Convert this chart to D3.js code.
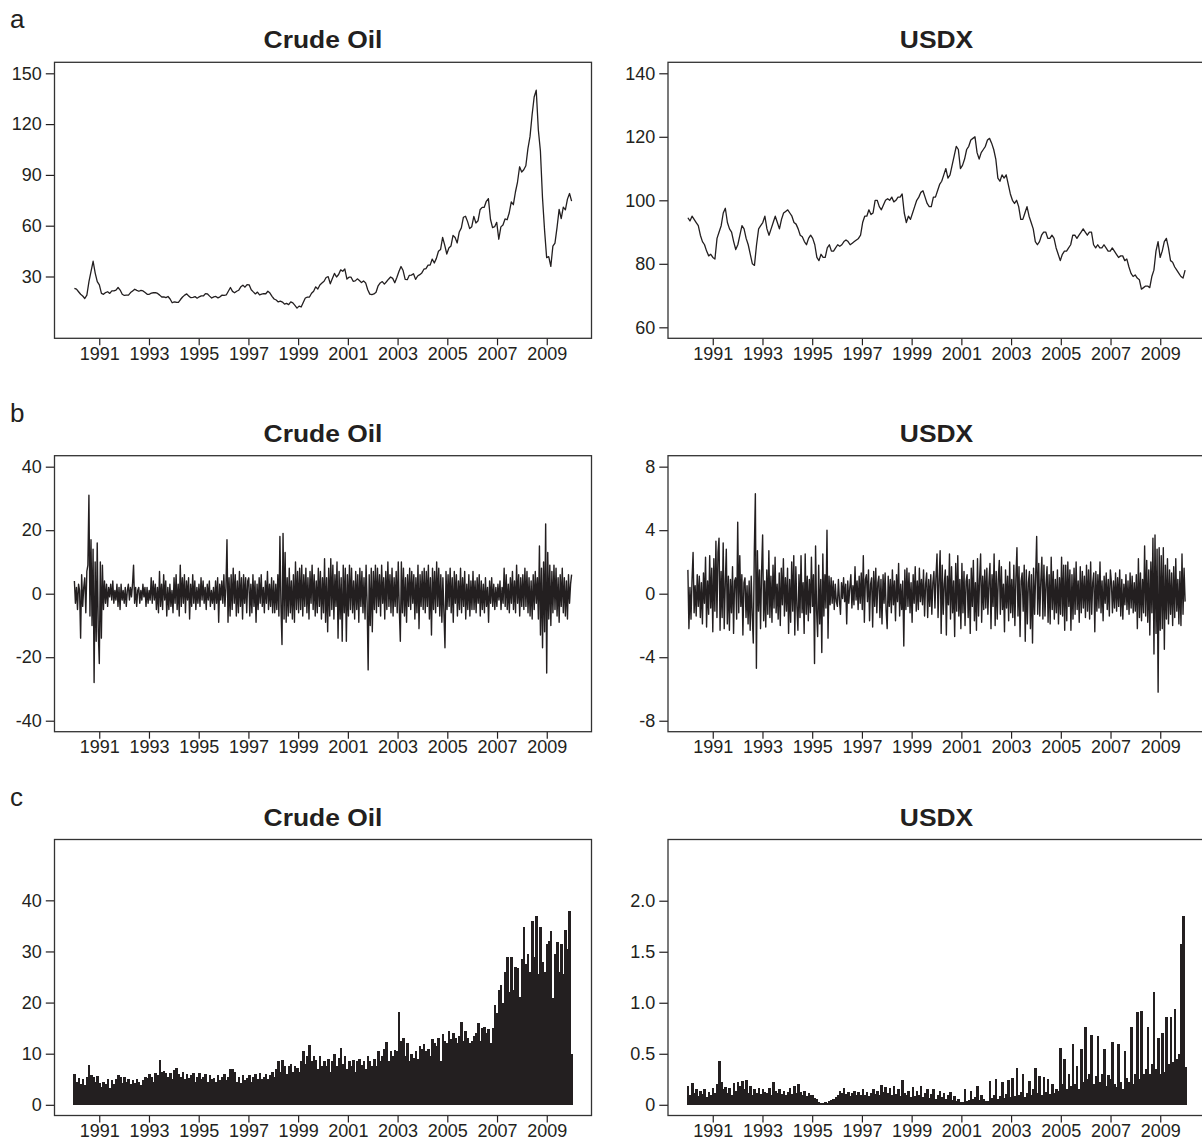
<!DOCTYPE html>
<html>
<head>
<meta charset="utf-8">
<script src="https://cdn.jsdelivr.net/npm/d3@7"></script>
<style>
  body { margin: 0; background: #fff; }
  svg { display: block; font-family: "Liberation Sans", Arial, Helvetica, sans-serif; }
  .tick text { font-size: 18px; fill: #231f20; }
  .tick line { stroke: #231f20; stroke-width: 1.2; }
</style>
</head>
<body>
<div class="graph_container"></div>
<script>
// ---- DATA (Jan 1990 .. Dec 2009) ----
const firstYear = 1990;
const lastYear = 2010;
const yearTicks = [1991, 1993, 1995, 1997, 1999, 2001, 2003, 2005, 2007, 2009];

// a: price levels, monthly
const crudePrice = [
  23, 22.5, 21, 19.5, 18.5, 17, 19, 27, 33, 39, 32, 27,
  25, 20, 19.5, 20.5, 21, 20, 21.5, 21.5, 22, 23.5, 22, 19.5,
  18.8, 19, 19, 20.5, 21.5, 22.5, 21.8, 21.3, 21.8, 21.5, 20.5, 19.5,
  19.5, 20.2, 20.4, 20.5, 20, 19, 17.9, 18, 17.5, 18.2, 16.7, 14.5,
  15, 14.8, 14.7, 16.4, 17.9, 19, 19.7, 18.4, 17.5, 17.7, 18.1, 17.2,
  18, 18.6, 18.5, 19.9, 19.7, 18.4, 17.3, 18, 18.2, 17.4, 18, 19,
  18.9, 19.1, 21.3, 23.5, 21.2, 20.4, 21.3, 21.9, 23.9, 24.9, 23.7, 25.2,
  25.1, 22.2, 20.9, 19.7, 20.8, 19.2, 19.6, 19.9, 19.8, 21.3, 20.2, 18.3,
  16.7, 16.1, 15, 15.4, 14.9, 13.7, 14.1, 13.4, 15, 14.4, 12.9, 11.3,
  12.5, 12, 14.7, 17.3, 17.8, 17.9, 20.1, 21.3, 23.9, 22.6, 25, 26.1,
  27.2, 29.4, 29.9, 25.7, 28.8, 31.8, 29.7, 31.2, 33.9, 33.1, 34.4, 28.5,
  29.6, 29.6, 27.2, 27.4, 28.6, 27.6, 26.4, 27.4, 26.2, 22.2, 19.6, 19.3,
  19.7, 20.7, 24.5, 26.2, 27, 25.5, 26.9, 28.4, 29.7, 28.9, 26.3, 29.4,
  32.9, 35.9, 33.5, 28.3, 28.1, 30.7, 30.8, 31.6, 28.3, 30.3, 31.1, 32.1,
  34.3, 34.7, 36.7, 36.7, 40.3, 38, 40.7, 44.9, 45.9, 53.1, 48.5, 43.3,
  46.8, 48, 54.3, 53, 49.8, 56.3, 58.7, 65, 65.6, 62.4, 58.3, 59.4,
  65.5, 61.6, 62.9, 69.4, 70.8, 70.9, 74.4, 76, 63.8, 58.9, 59.4, 62,
  52, 59.3, 60.4, 64, 63.5, 67.5, 74.1, 72.4, 79.9, 85.8, 94.8, 91.7,
  93, 95.4, 105.5, 112.6, 125.4, 136, 140, 116.7, 104.1, 76.6, 57.3, 41.1,
  41.7, 36, 47.9, 49.7, 59, 69.6, 64.2, 71, 69.4, 75.7, 79, 74.5
];
const usdxPrice = [
  94.5, 93.5, 95, 94, 93, 92, 89, 87, 86, 84, 82.5, 83,
  82, 81.5, 88, 90, 92, 96, 97.5, 93, 91, 90, 87, 84.5,
  86, 89, 92, 91, 88, 86, 83, 80, 79.5, 86, 91, 92,
  93, 95, 91, 89, 91, 93, 95, 93, 91, 94, 96, 96.5,
  97, 96, 95, 93, 92.5, 91, 89, 88.5, 87, 86, 88, 89,
  88, 86, 82, 81, 83, 82, 82, 85, 86, 84, 84, 85,
  86, 85.5, 86, 87, 87.5, 87, 86, 86.5, 87, 87.5, 88, 89,
  93, 95, 95, 97, 95.5, 96, 100, 100, 98, 97, 98.5, 100,
  100.5, 100, 101, 99.5, 100, 101, 101, 102, 96, 93, 95, 94,
  96, 98, 100, 101, 102.5, 103, 101, 99, 98, 98, 101, 101,
  103, 105, 106, 108, 110, 107, 108, 111, 114, 117, 116, 110,
  111, 113, 116, 117, 119, 119.5, 120, 115, 113, 115, 116, 117,
  119, 119.5, 118, 116, 113, 107, 106, 108, 107, 108, 105, 102,
  100, 99, 100, 98, 94, 94, 96, 98, 95, 93, 91, 87,
  86, 87, 89, 90, 90, 88, 88, 89, 88, 85, 83, 81,
  83, 84, 84, 85, 86, 89, 89, 88, 89, 90, 91, 90,
  89, 90, 90, 86, 85, 86, 85, 85, 86, 85, 84, 84,
  85, 84, 83, 82, 82.5, 82.5, 81, 81.5, 79, 77, 76, 76.5,
  75.5, 75, 72, 72.5, 73, 73, 72.5, 76, 78, 84, 87, 82,
  84, 87, 88, 85, 81, 80.5, 79, 78, 77, 76, 75.5, 78
];

// b: returns (%), twice a month
const crudeReturn = [
  4, -3, 2, -5, 3, 1, -14, 6, -4, 2, 5, -6, 7, 9, 31, -7, 17, -10, 14, -28, 10, -15, 16, -12,
  -22, 10, -14, 9, -5, 4, -3, 3, -4, 2, -1, 3, -2, 4, -3, 1, -2, 3, -4, 2, -5, 3, -2, 1,
  -3, 2, -4, 1, 3, -2, 2, -1, 3, 9, -3, 2, -4, 1, 2, -3, 1, -2, 3, -1, 2, -4, 2, -3,
  1, -2, 5, -3, 4, -2, 3, -5, 2, -6, 7, -4, 3, -5, 6, -2, 4, -7, 2, -5, 3, -4, 1, -6,
  5, -3, 6, -5, 3, -7, 9, -4, 5, -3, 6, -6, 4, -2, 5, -8, 3, -4, 6, -3, 4, -5, 2, -3,
  3, -4, 5, -2, 4, -3, 2, -5, 3, -2, 4, -4, 1, -3, 2, -5, 4, -3, 5, -9, 3, -2, 4, -3,
  6, -4, 2, 17, -9, 5, -7, 6, -5, 8, -3, 6, -7, 4, -6, 7, -4, 5, -8, 6, -3, 5, -6, 4,
  5, -7, 3, -6, 6, -4, 4, -9, 3, -5, 5, -3, 6, -4, 2, -6, 4, -3, 7, -5, 3, -4, 5, -6,
  4, -6, 3, -5, 6, -7, 18, -4, -16, 19, -8, 13, -9, 5, -7, 8, -6, 4, -8, 6, -9, 10, -5, 7,
  -6, 8, -5, 9, -7, 6, -4, 8, -6, 5, -8, 7, -3, 9, -5, 6, -7, 4, -6, 8, -4, 7, -8, 5,
  -6, 11, -9, 5, -12, 8, -7, 11, -5, 9, -8, 6, -4, 10, -14, 7, -8, 5, -15, 9, -6, 8, -15, 6,
  -7, 9, -5, 8, -6, 4, -8, 7, -5, 6, -9, 8, -4, 7, -6, 5, -8, 9, -3, -24, 6, -10, 8, -12,
  7, -5, 9, -6, 8, -4, 6, -7, 9, -3, 5, -8, 7, -5, 10, -4, 6, -6, 8, -7, 5, -4, 7, -6,
  10, -5, -15, 10, -6, 8, -7, 5, -9, 6, -4, 8, -5, 7, -3, 6, -8, 5, -6, 9, -11, 6, -4, 7,
  -5, 8, -6, 7, -4, 9, -8, 5, -13, 8, -5, 7, -6, 10, -4, 8, -7, 6, -9, 5, -6, -17, 7, -5,
  6, -4, 8, -6, 5, -9, 7, -3, 6, -7, 4, -5, 8, -6, 5, -4, 7, -8, 3, -5, 6, -7, 4, -5,
  7, -5, 4, -6, 5, -3, 6, -7, 4, -5, 3, -6, 5, -4, 2, -9, 4, -3, 5, -4, 3, -5, 2, -4,
  3, -2, 4, -5, 2, -3, 8, -4, 6, -5, 3, -6, 5, -3, 7, -5, 4, -6, 9, -3, 6, -7, 5, -4,
  6, -5, 8, -4, 7, -6, 5, -7, 4, -8, 6, -5, 7, -3, 5, -8, 15, -13, 8, -17, 10, -12, 22, -25,
  13, -8, 9, -10, 7, -6, 9, -5, 8, -7, 5, -9, 6, -4, 8, -6, 5, -7, 4, -8, 6, -3, 3, 6
];
const usdxReturn = [
  1.5, -2.2, 0.4, -1.6, 0.9, 2.6, -1.2, 0.5, -1.4, 1.2, -0.8, 1.1, -1.5, 0.7, -1.9, 1.3, -0.6, 2.3, -2.1, 0.8, -1.3, 2.4, -0.9, 1.6,
  -2.4, 2.2, -1.1, 3.3, -1.5, 2.6, 3.5, -2.3, 1.4, -1.5, 3.2, -2.2, 0.6, 2.8, -1.9, 1.1, -2.3, 0.9, -1.2, 1.7, -2.5, 0.8, 1, -1.6,
  4.5, -1.2, 2.4, -0.8, 1.2, -2.6, 0.7, 1, -1.5, 0.5, -1.9, 0.8, -2.3, 1.1, -1.4, -3.1, 2.7, 6.3, -4.7, 2.7, -1.1, 1.5, -2.2, 1.4,
  3.7, -1.7, 0.8, -2.1, 1.5, -1.3, 2.7, -1.5, 1.1, -1.8, 1.8, -0.9, 2.3, -1.2, 0.6, -1.6, 1.3, -2, 1.6, -0.7, 2.2, -1.4, 1, -1.1,
  1.6, -2.5, 0.9, -1.8, 2, -1.1, 2.4, -2.6, 1.7, -0.8, -2.3, 1.2, -1.5, 2.4, -1.2, 0.7, -2.5, 2.5, -1.3, 1.1, -1.7, 0.9, -1.2, 2.3,
  -0.8, 1.2, -4.4, 3, -1.1, -2.7, 1.8, -1.9, 0.9, -3.7, 2.5, -1.4, 1.2, -0.9, 4, -2.8, 1.1, -0.7, 1, -0.6, 0.8, -1, 0.6, -0.5,
  -0.8, 0.9, -0.4, -1.3, 0.7, -0.3, 1, -0.5, 0.6, -1.9, 0.8, -0.6, 0.4, 1.2, -0.9, 0.5, -0.7, 1.7, -0.4, 0.8, -1, 1.1, -0.6, 1.3,
  -1, 2.4, -1.8, 0.9, 1.2, -0.5, 1.5, -1.7, 0.6, 1, -2.1, 1.4, -0.8, 1.6, -1.2, 0.7, 1.1, -1.5, 0.9, -1.9, 1.2, -0.6, 1.3, -1.1,
  -2.2, 1.1, -0.8, 0.9, -1.2, 1.5, -0.7, 0.8, -1.7, 1.2, -0.5, 1.9, -1.4, 0.6, -1, 0.8, -3.3, 1.5, -1, 1.6, -0.8, 1.3, -1.2, 0.7,
  -1.8, 1.2, -0.6, 1.7, -1.1, 0.8, -1, 1.6, -0.5, 0.9, -0.7, 1.5, -1.4, 0.6, 1.3, -1.5, 0.9, -0.8, 1.2, -1.3, 0.7, 1.4, -0.9, 1.1,
  2.5, -1.5, 0.9, 2.7, -2.5, 1.8, -1.3, 0.6, 1.5, -2.6, 1.1, -0.7, 2.5, -1.6, 1.7, -1.2, 0.8, -2.7, 1.9, -1.1, 2.4, -1.4, 0.9, -2.2,
  1.9, -1.2, 1.4, -2, 0.8, 1.2, -1.5, 0.9, -2.5, 1.6, -0.8, 2.1, -1.7, 0.7, -2.3, 2.2, -1.4, 0.9, 2.5, -1.8, 1.1, -1, 1.5, -0.9,
  1.6, -1.3, 0.7, 1.9, -2.2, 1.2, -0.8, 2.5, -2, 1.4, -1.6, 0.9, 2.1, -1.3, 1.7, -1, 0.6, -2.4, 1.5, -0.9, 1.1, -1.7, 2, -1.2,
  0.9, -1.5, 1.8, -2, 1, 2.9, -1.4, 1.7, -2.7, 0.8, 1.3, -1.1, 1.8, -3, 1.5, -1.9, 0.7, 1.4, -2.2, 1.2, -3.1, 1.6, -1.3, 1.1,
  3.6, -1.3, 1.9, -1.4, 0.8, 2.3, -1.6, 1.8, -1.4, 0.6, 1.7, -1.8, 1.2, -1.9, 2.3, -1, 1.4, -1.6, 0.9, -1.2, 1.5, -1.9, 1, -1.3,
  2.3, -1.4, 1.8, -2.3, 1.8, -1.7, 2, -0.8, 1.5, -2.3, 1.2, -1.6, 1.6, -1.3, 2, -1, 0.8, -1.8, 1.7, -1.2, 1.4, -0.9, 1.1, -1.5,
  1.8, -1.1, 1.5, -1.6, 2, -1.3, 0.7, 1.3, -2.4, 1.4, -1.1, 1.2, -0.9, 2, -1.2, 0.8, -1.7, 1.1, -0.6, 1.3, -1, 0.9, -1.4, 1.5,
  0.7, -1.2, 0.8, -0.9, 1.3, -1.1, 1, -0.8, 1.5, -1.4, 0.9, -1.6, 0.6, -0.7, 1.2, -1, 0.8, -1.3, 1.3, -0.9, 1.1, -1.2, 0.7, -1.1,
  1.2, -2.2, 2.2, -1.5, 1.3, -1.7, 0.9, -1.2, 3, -1.4, 2.1, -1.8, 1.5, -2.6, 2, -1.2, 3.5, -3.8, 3.7, -2.5, 2.8, -6.2, 2.9, -2.3,
  2.4, -2.2, 2.9, -3.5, 1.8, -1.6, 2.2, -1.9, 1.5, -1.3, 1.3, -2, 1.7, -1.5, 2.2, -1.1, 0.9, -1.9, 1.4, -2, 2.5, -1.3, 1.6, -0.5
];

// c: volatility bars, monthly
const crudeVol = [
  6, 4.5, 5.2, 4, 5, 3.8, 5.5, 7.8, 5.8, 5.5, 4.5, 5.6,
  4.2, 3.5, 4.5, 4, 5, 3.2, 4.8, 4, 5, 5.8, 5.5, 4.2,
  5.5, 4.5, 5, 4, 4.8, 4.2, 5, 4.5, 3.8, 4.8, 5.5, 5.2,
  6, 5.5, 4.5, 6.2, 5.8, 8.8, 6.5, 6.6, 6.3, 5.5, 6.2, 5,
  6.8, 7.2, 6, 5.5, 6.5, 5, 6, 5.2, 5.8, 6.2, 4.5, 5.5,
  6.3, 5, 5.5, 6, 4.5, 5.8, 5, 5.2, 4.5, 5.8, 4.8, 5.5,
  6, 4.8, 5.5, 7, 7, 6.5, 4.5, 5.5, 4.2, 5.8, 4.8, 5.2,
  5.8, 4.5, 5.5, 6, 5, 6.2, 5, 5.5, 6, 5, 5.8, 6.5,
  5.5, 7, 8.5, 6.5, 8.8, 7.5, 6, 7.5, 8, 6.5, 7.5, 7.2,
  6.5, 8.5, 10.5, 8, 9.5, 11.7, 8.5, 9.5, 8.8, 7, 9.5, 7.5,
  8.5, 7.5, 9, 6.5, 8.5, 10, 7.5, 9.2, 11.2, 8, 9.5, 7,
  8.5, 7.5, 8.8, 6.5, 8.5, 9, 7.8, 8.5, 7, 9.5, 8.5, 7.5,
  9, 7.5, 10.5, 8.5, 9.5, 11, 12.3, 8.5, 10.5, 9.5, 10.8, 10.5,
  18.2, 12.5, 13, 9.5, 12, 8.5, 10, 9.2, 10.5, 9, 11.5, 11,
  11.8, 10.5, 11, 9.5, 12.8, 12, 11.5, 13, 8.5, 13.8, 12.5, 12,
  14.5, 12.8, 14, 13, 12, 13.5, 16.2, 12.5, 14.5, 13, 12, 12.5,
  13.5, 14, 16, 12.5, 15, 15.3, 14, 14.8, 12, 15, 19.5, 18,
  22.5, 23.5, 20, 26, 29, 22, 29, 22.5, 27, 26.8, 21, 28.5,
  34.8, 27.5, 29.5, 26, 36, 29, 37, 25.5, 34.7, 28, 26, 31.5,
  32, 34, 20.8, 29.5, 31.8, 26, 31.5, 25.5, 34.2, 30.5, 38, 10
];
const usdxVol = [
  0.18, 0.1, 0.21, 0.12, 0.15, 0.09, 0.14, 0.11, 0.15, 0.08, 0.13, 0.1,
  0.16, 0.12, 0.2, 0.43, 0.22, 0.15, 0.17, 0.12, 0.16, 0.1, 0.21, 0.14,
  0.22, 0.18, 0.23, 0.15, 0.24, 0.12, 0.18, 0.1, 0.15, 0.12, 0.16, 0.11,
  0.15, 0.13, 0.12, 0.16, 0.1, 0.22, 0.14, 0.12, 0.15, 0.11, 0.14, 0.1,
  0.13, 0.16, 0.11, 0.18, 0.12, 0.2, 0.13, 0.1, 0.14, 0.09, 0.12, 0.1,
  0.1, 0.07, 0.06, 0.03, 0.02, 0.02, 0.03, 0.02, 0.04, 0.05, 0.06, 0.08,
  0.1, 0.14, 0.12, 0.16, 0.11, 0.13, 0.09, 0.12, 0.14, 0.1, 0.13, 0.1,
  0.15, 0.1, 0.13, 0.09, 0.12, 0.15, 0.11, 0.14, 0.1, 0.19, 0.13, 0.17,
  0.12, 0.16, 0.1, 0.18, 0.11, 0.15, 0.09, 0.24, 0.12, 0.1, 0.14, 0.08,
  0.17, 0.09, 0.14, 0.1, 0.18, 0.08, 0.12, 0.15, 0.07, 0.11, 0.15, 0.06,
  0.1, 0.14, 0.08, 0.12, 0.06, 0.1, 0.13, 0.05, 0.09, 0.04, 0.06, 0.03,
  0.03, 0.15, 0.04, 0.05, 0.14, 0.06, 0.08, 0.18, 0.05, 0.1, 0.06, 0.04,
  0.04, 0.23, 0.07, 0.1, 0.25, 0.06, 0.09, 0.22, 0.07, 0.11, 0.24, 0.08,
  0.26, 0.09, 0.36, 0.1, 0.13, 0.3, 0.08, 0.12, 0.23, 0.1, 0.15, 0.36,
  0.12, 0.28, 0.1, 0.27, 0.13, 0.25, 0.11, 0.2, 0.12, 0.15, 0.14, 0.56,
  0.2, 0.45, 0.15, 0.3, 0.18, 0.6, 0.2, 0.38, 0.15, 0.55, 0.22, 0.76,
  0.25, 0.3, 0.68, 0.2, 0.28, 0.67, 0.22, 0.3, 0.55, 0.18, 0.29, 0.25,
  0.62, 0.2, 0.17, 0.6, 0.22, 0.15, 0.53, 0.26, 0.22, 0.76, 0.2, 0.3,
  0.91, 0.25, 0.92, 0.3, 0.35, 0.76, 0.3, 0.4, 1.11, 0.35, 0.65, 0.3,
  0.7, 0.32, 0.86, 0.4, 0.86, 0.42, 0.94, 0.45, 0.5, 1.58, 1.85, 0.37
];

// y tick values per panel
const crudePriceTicks = [30, 60, 90, 120, 150];
const usdxPriceTicks = [60, 80, 100, 120, 140];
const crudeReturnTicks = [-40, -20, 0, 20, 40];
const usdxReturnTicks = [-8, -4, 0, 4, 8];
const crudeVolTicks = [0, 10, 20, 30, 40];
const usdxVolTicks = [0, 0.5, 1, 1.5, 2];

// ---- LAYOUT ----
const W = 1202, H = 1141;
const colLeft = [54.5, 668];
const rowTop = [62.3, 455.7, 839.5];
const boxW = 537, boxH = 276;
const ink = "#231f20";

// plain hyphen for negatives, as in the source figure
const plainInt = d => String(d);
const oneDecimal = d => d === 0 ? "0" : d3.format(".1f")(d);

const panels = [
  { row: 0, col: 0, letter: "a", title: "Crude Oil", values: crudePrice, kind: "line", yDomain: [-6.5, 156.5], ticks: crudePriceTicks },
  { row: 0, col: 1, title: "USDX", values: usdxPrice, kind: "line", yDomain: [56.54, 143.46], ticks: usdxPriceTicks },
  { row: 1, col: 0, letter: "b", title: "Crude Oil", values: crudeReturn, kind: "line", yDomain: [-43.46, 43.46], ticks: crudeReturnTicks },
  { row: 1, col: 1, title: "USDX", values: usdxReturn, kind: "line", yDomain: [-8.69, 8.69], ticks: usdxReturnTicks },
  { row: 2, col: 0, letter: "c", title: "Crude Oil", values: crudeVol, kind: "bar", yDomain: [-2.09, 51.9], ticks: crudeVolTicks },
  { row: 2, col: 1, title: "USDX", values: usdxVol, kind: "bar", yDomain: [-0.105, 2.6], ticks: usdxVolTicks, fmt: oneDecimal }
];

const svg = d3.select(".graph_container").append("svg")
  .attr("width", W).attr("height", H);
svg.append("rect").attr("width", W).attr("height", H).attr("fill", "#fff");

panels.forEach(p => {
  const x0 = colLeft[p.col], y0 = rowTop[p.row];
  const g = svg.append("g").attr("transform", `translate(${x0},${y0})`);

  const n = p.values.length;
  const time = d3.range(n).map(i => firstYear + i * (lastYear - firstYear) / (n - 1));
  const xScale = d3.scaleLinear().domain([1989.2, 2010.8]).range([0, boxW]);
  const yScale = d3.scaleLinear().domain(p.yDomain).range([boxH, 0]);

  if (p.kind === "line") {
    const line = d3.line().x((d, i) => xScale(time[i])).y(d => yScale(d));
    g.append("path").datum(p.values)
      .attr("fill", "none").attr("stroke", ink)
      .attr("stroke-width", p.row === 1 ? 1.4 : 1.3).attr("stroke-linejoin", "round")
      .attr("d", line);
  } else {
    const step = xScale(time[1]) - xScale(time[0]);
    g.selectAll("rect.bar").data(p.values).join("rect")
      .attr("class", "bar")
      .attr("x", (d, i) => xScale(time[i]) - step / 2)
      .attr("width", step + 0.5)
      .attr("y", d => yScale(d))
      .attr("height", d => yScale(0) - yScale(d))
      .attr("fill", ink)
      .attr("shape-rendering", "crispEdges");
  }

  // axes
  const xAxis = d3.axisBottom(xScale).tickValues(yearTicks).tickFormat(plainInt)
    .tickSize(7).tickPadding(2);
  g.append("g").attr("transform", `translate(0,${boxH})`).call(xAxis)
    .call(a => a.select(".domain").remove());

  const yAxis = d3.axisLeft(yScale).tickValues(p.ticks).tickFormat(p.fmt || plainInt)
    .tickSize(8.7).tickPadding(4);
  g.append("g").call(yAxis).call(a => a.select(".domain").remove());

  // frame
  g.append("rect").attr("width", boxW).attr("height", boxH)
    .attr("fill", "none").attr("stroke", "#333").attr("stroke-width", 1.3);

  // title (slightly wide, like the source figure)
  g.append("text")
    .attr("transform", `translate(${boxW / 2},-14) scale(1.1,1)`)
    .attr("text-anchor", "middle").attr("font-weight", "bold")
    .attr("font-size", 24).attr("fill", ink).text(p.title);

  if (p.letter) {
    svg.append("text").attr("x", 10).attr("y", y0 - 34)
      .attr("font-size", 26).attr("fill", ink).text(p.letter);
  }
});
</script>
</body>
</html>
